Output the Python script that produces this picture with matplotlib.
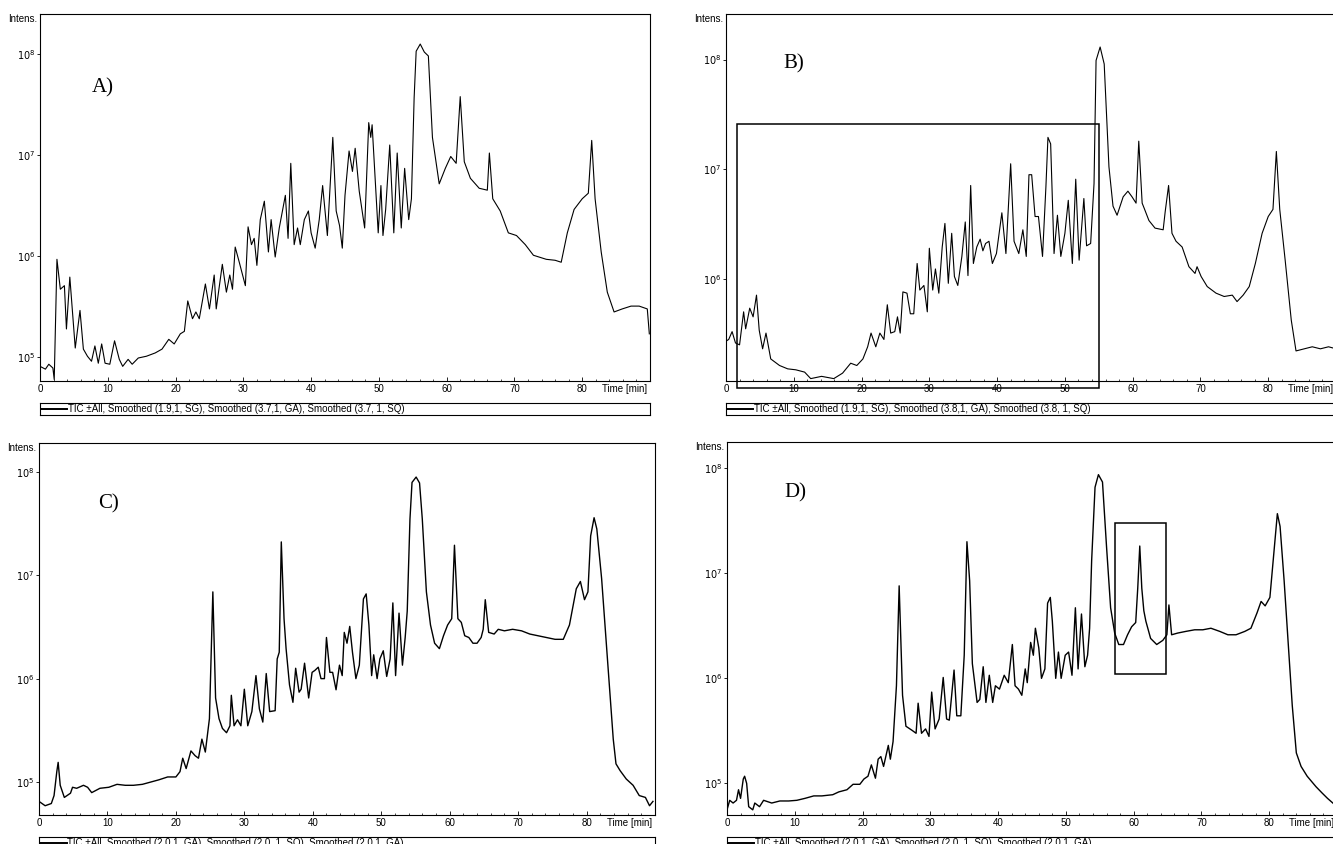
import matplotlib
matplotlib.use("Agg")
import matplotlib.pyplot as plt
from matplotlib.patches import Rectangle
from matplotlib.ticker import FixedLocator, MultipleLocator, NullFormatter

# ---- data (time in min, intensity) ----
a_time = [0.0, 0.8, 1.3, 1.9, 2.1, 2.5, 3.0, 3.6, 3.9, 4.4, 5.2, 5.9, 6.4, 7.0, 7.6, 8.1, 8.6, 9.1, 9.6,
          10.3, 11.0, 11.7, 12.2, 13.0, 13.6, 14.5, 15.7, 17.0, 18.0, 19.0, 19.8, 20.7, 21.3, 21.8, 22.5,
          23.0, 23.5, 24.4, 25.0, 25.7, 26.0, 26.9, 27.5, 28.0, 28.4, 28.8, 29.4, 30.3, 30.7, 31.2, 31.6,
          32.0, 32.5, 33.1, 33.7, 34.1, 34.7, 35.3, 36.2, 36.6, 37.0, 37.5, 38.0, 38.4, 39.0, 39.6, 40.0,
          40.6, 41.2, 41.7, 42.4, 43.2, 43.7, 44.2, 44.6, 45.0, 45.6, 46.1, 46.5, 47.1, 47.9, 48.5, 48.8,
          49.0, 49.5, 49.9, 50.3, 50.6, 51.0, 51.6, 52.2, 52.7, 53.3, 53.8, 54.4, 54.8, 55.2, 55.5, 56.1,
          56.7, 57.3, 57.9, 58.9, 59.8, 60.6, 61.4, 62.0, 62.6, 63.5, 64.8, 66.0, 66.3, 66.8, 67.9, 69.1,
          70.3, 71.6, 72.8, 74.7, 76.0, 76.9, 77.8, 78.8, 80.0, 80.9, 81.4, 81.9, 82.8, 83.7, 84.7, 85.9,
          87.2, 88.4, 89.6, 89.9]
a_int = [8.1e4, 7.6e4, 8.5e4, 7.8e4, 6.0e4, 9.3e5, 4.7e5, 5.1e5, 1.9e5, 6.2e5, 1.23e5, 2.9e5, 1.2e5,
         1.02e5, 9.1e4, 1.29e5, 8.7e4, 1.35e5, 8.7e4, 8.5e4, 1.45e5, 9.5e4, 8.1e4, 9.5e4, 8.5e4, 9.8e4,
         1.02e5, 1.1e5, 1.2e5, 1.5e5, 1.35e5, 1.7e5, 1.8e5, 3.6e5, 2.4e5, 2.8e5, 2.4e5, 5.3e5, 3.0e5,
         6.5e5, 3.0e5, 8.3e5, 4.4e5, 6.5e5, 4.7e5, 1.23e6, 8.7e5, 5.1e5, 1.95e6, 1.3e6, 1.5e6, 8.1e5,
         2.3e6, 3.5e6, 1.1e6, 2.3e6, 9.8e5, 1.9e6, 4.0e6, 1.5e6, 8.3e6, 1.3e6, 1.9e6, 1.3e6, 2.3e6,
         2.8e6, 1.7e6, 1.2e6, 2.3e6, 5.0e6, 1.6e6, 1.5e7, 2.8e6, 2.0e6, 1.2e6, 4.0e6, 1.1e7, 6.9e6,
         1.17e7, 4.4e6, 1.9e6, 2.1e7, 1.5e7, 2.0e7, 5.0e6, 1.7e6, 5.0e6, 1.6e6, 2.9e6, 1.26e7, 1.7e6,
         1.05e7, 1.9e6, 7.4e6, 2.3e6, 3.7e6, 3.7e7, 1.07e8, 1.26e8, 1.05e8, 9.6e7, 1.5e7, 5.2e6, 7.4e6,
         9.7e6, 8.3e6, 3.8e7, 8.6e6, 5.9e6, 4.7e6, 4.5e6, 1.05e7, 3.7e6, 2.8e6, 1.7e6, 1.6e6, 1.3e6,
         1.02e6, 9.3e5, 9.1e5, 8.7e5, 1.7e6, 2.9e6, 3.7e6, 4.2e6, 1.4e7, 3.7e6, 1.1e6, 4.4e5, 2.8e5,
         3.0e5, 3.2e5, 3.2e5, 3.0e5, 1.7e5]

b_time = [0.0, 0.4, 0.9, 1.4, 2.0, 2.6, 2.9, 3.5, 4.0, 4.5, 4.9, 5.4, 5.9, 6.6, 7.9, 9.1, 10.3, 11.6,
          12.5, 14.1, 15.9, 17.2, 18.4, 19.3, 20.2, 20.9, 21.4, 22.1, 22.7, 23.3, 23.8, 24.3, 24.9, 25.3,
          25.7, 26.1, 26.7, 27.2, 27.7, 28.2, 28.6, 29.2, 29.7, 30.0, 30.5, 30.9, 31.4, 31.9, 32.3, 32.8,
          33.3, 33.7, 34.2, 34.8, 35.3, 35.7, 36.1, 36.5, 37.0, 37.5, 37.9, 38.3, 38.8, 39.3, 39.9, 40.7,
          41.3, 42.0, 42.5, 43.2, 43.8, 44.3, 44.7, 45.1, 45.6, 46.1, 46.7, 47.2, 47.5, 47.9, 48.4, 48.9,
          49.4, 50.0, 50.5, 51.1, 51.6, 52.1, 52.8, 53.2, 53.8, 54.3, 54.6, 55.2, 55.8, 56.5, 57.1, 57.7,
          58.6, 59.3, 59.9, 60.5, 60.9, 61.4, 61.7, 62.4, 63.3, 64.5, 64.8, 65.3, 65.8, 66.4, 67.3, 68.3,
          69.2, 69.5, 70.1, 71.0, 72.3, 73.5, 74.7, 75.4, 76.3, 77.2, 78.1, 79.1, 80.0, 80.7, 81.2, 81.7,
          82.5, 83.4, 84.1, 85.3, 86.5, 87.7, 88.9, 90.0]
b_int = [2.7e5, 2.8e5, 3.3e5, 2.6e5, 2.5e5, 5.0e5, 3.5e5, 5.4e5, 4.5e5, 7.1e5, 3.4e5, 2.3e5, 3.2e5,
         1.86e5, 1.62e5, 1.51e5, 1.48e5, 1.41e5, 1.23e5, 1.29e5, 1.23e5, 1.38e5, 1.7e5, 1.62e5, 1.86e5,
         2.4e5, 3.2e5, 2.4e5, 3.2e5, 2.8e5, 5.8e5, 3.2e5, 3.3e5, 4.5e5, 3.2e5, 7.6e5, 7.4e5, 4.8e5,
         4.8e5, 1.38e6, 7.9e5, 8.7e5, 5.0e5, 1.9e6, 7.9e5, 1.23e6, 7.4e5, 1.95e6, 3.2e6, 9.1e5, 2.6e6,
         1.05e6, 8.7e5, 1.6e6, 3.3e6, 1.07e6, 7.1e6, 1.38e6, 1.95e6, 2.3e6, 1.8e6, 2.1e6, 2.2e6, 1.38e6,
         1.7e6, 4.0e6, 1.7e6, 1.12e7, 2.2e6, 1.7e6, 2.8e6, 1.6e6, 8.9e6, 8.9e6, 3.7e6, 3.7e6, 1.6e6,
         6.9e6, 1.95e7, 1.7e7, 1.7e6, 3.8e6, 1.6e6, 2.6e6, 5.2e6, 1.38e6, 8.1e6, 1.48e6, 5.4e6, 2.0e6,
         2.1e6, 7.4e6, 9.8e7, 1.3e8, 9.1e7, 1.05e7, 4.6e6, 3.8e6, 5.6e6, 6.3e6, 5.6e6, 4.9e6, 1.8e7,
         4.9e6, 4.4e6, 3.4e6, 2.9e6, 2.8e6, 4.1e6, 7.1e6, 2.6e6, 2.2e6, 1.95e6, 1.29e6, 1.12e6, 1.29e6,
         1.05e6, 8.5e5, 7.4e5, 6.9e5, 7.1e5, 6.2e5, 7.1e5, 8.5e5, 1.38e6, 2.6e6, 3.7e6, 4.3e6, 1.45e7,
         4.3e6, 1.48e6, 4.2e5, 2.2e5, 2.3e5, 2.4e5, 2.3e5, 2.4e5, 2.3e5]

c_time = [0.0, 0.9, 1.8, 2.2, 2.6, 2.8, 3.1, 3.7, 4.6, 4.9, 5.5, 6.5, 7.1, 7.7, 8.9, 10.2, 11.4, 12.6,
          13.8, 15.1, 16.3, 17.5, 18.8, 20.0, 20.6, 21.0, 21.5, 22.2, 22.8, 23.3, 23.8, 24.3, 24.9, 25.4,
          25.8, 26.3, 26.8, 27.4, 27.9, 28.1, 28.5, 29.0, 29.5, 30.0, 30.5, 31.1, 31.7, 32.2, 32.7, 33.2,
          33.7, 34.5, 34.8, 35.1, 35.4, 35.8, 36.1, 36.6, 37.1, 37.5, 38.0, 38.3, 38.8, 39.4, 39.9, 40.3,
          40.8, 41.2, 41.7, 42.0, 42.5, 42.9, 43.4, 43.9, 44.3, 44.6, 45.0, 45.4, 45.8, 46.3, 46.8, 47.4,
          47.8, 48.2, 48.6, 48.9, 49.4, 49.8, 50.3, 50.8, 51.3, 51.7, 52.1, 52.6, 53.1, 53.5, 53.8, 54.2,
          54.5, 55.1, 55.6, 56.0, 56.6, 57.2, 57.8, 58.5, 59.1, 59.7, 60.3, 60.7, 61.2, 61.7, 62.2, 62.8,
          63.4, 64.0, 64.6, 64.9, 65.2, 65.7, 66.5, 67.1, 68.0, 69.2, 70.5, 71.7, 72.9, 74.2, 75.4, 76.6,
          77.5, 78.5, 79.1, 79.7, 80.2, 80.6, 81.1, 81.5, 82.2, 82.8, 83.4, 83.9, 84.3, 84.9, 85.8, 86.8,
          87.7, 88.6, 89.2, 89.7]
c_int = [6.5e4, 5.9e4, 6.2e4, 7.4e4, 1.26e5, 1.55e5, 9.3e4, 7.1e4, 7.8e4, 8.9e4, 8.7e4, 9.3e4, 8.9e4,
         7.9e4, 8.7e4, 8.9e4, 9.5e4, 9.3e4, 9.3e4, 9.5e4, 1.0e5, 1.05e5, 1.12e5, 1.12e5, 1.26e5, 1.7e5,
         1.35e5, 2.0e5, 1.8e5, 1.7e5, 2.6e5, 1.95e5, 4.1e5, 6.9e6, 6.5e5, 4.1e5, 3.3e5, 3.0e5, 3.5e5,
         6.9e5, 3.5e5, 4.0e5, 3.5e5, 7.9e5, 3.5e5, 4.8e5, 1.07e6, 5.1e5, 3.8e5, 1.12e6, 4.8e5, 4.9e5,
         1.55e6, 1.8e6, 2.1e7, 3.8e6, 1.95e6, 8.7e5, 5.9e5, 1.26e6, 7.4e5, 7.9e5, 1.41e6, 6.5e5, 1.15e6,
         1.2e6, 1.29e6, 1.0e6, 1.0e6, 2.5e6, 1.15e6, 1.15e6, 7.8e5, 1.35e6, 1.07e6, 2.8e6, 2.2e6, 3.2e6,
         1.8e6, 1.0e6, 1.35e6, 5.9e6, 6.6e6, 3.3e6, 1.07e6, 1.7e6, 1.0e6, 1.55e6, 1.86e6, 1.05e6, 1.55e6,
         5.4e6, 1.07e6, 4.3e6, 1.35e6, 2.5e6, 4.5e6, 3.5e7, 7.9e7, 8.9e7, 7.8e7, 3.5e7, 6.9e6, 3.3e6,
         2.2e6, 1.95e6, 2.6e6, 3.3e6, 3.8e6, 1.95e7, 3.8e6, 3.5e6, 2.6e6, 2.5e6, 2.2e6, 2.2e6, 2.5e6,
         3.0e6, 5.8e6, 2.8e6, 2.7e6, 3.0e6, 2.9e6, 3.0e6, 2.9e6, 2.7e6, 2.6e6, 2.5e6, 2.4e6, 2.4e6,
         3.3e6, 7.4e6, 8.7e6, 5.8e6, 6.9e6, 2.4e7, 3.6e7, 2.8e7, 9.3e6, 2.6e6, 7.4e5, 2.6e5, 1.5e5,
         1.29e5, 1.07e5, 9.3e4, 7.4e4, 7.1e4, 5.9e4, 6.5e4]

d_time = [0.0, 0.4, 0.9, 1.4, 1.7, 2.0, 2.4, 2.6, 2.9, 3.2, 3.8, 4.1, 4.8, 5.4, 6.6, 7.8, 9.1, 10.3,
          11.5, 12.8, 14.0, 15.6, 16.5, 17.7, 18.6, 19.6, 20.2, 20.8, 21.3, 21.9, 22.3, 22.7, 23.1, 23.8,
          24.1, 24.5, 25.0, 25.4, 25.9, 26.4, 27.3, 27.9, 28.2, 28.7, 29.3, 29.8, 30.2, 30.7, 31.3, 31.9,
          32.4, 32.8, 33.5, 33.9, 34.5, 35.0, 35.4, 35.8, 36.2, 36.9, 37.3, 37.8, 38.2, 38.7, 39.2, 39.6,
          40.2, 40.9, 41.5, 42.1, 42.5, 43.0, 43.5, 44.0, 44.3, 44.8, 45.2, 45.5, 46.0, 46.4, 46.9, 47.3,
          47.7, 48.0, 48.5, 48.9, 49.3, 49.9, 50.4, 50.9, 51.4, 51.8, 52.3, 52.8, 53.2, 53.5, 53.8, 54.3,
          54.8, 55.4, 56.0, 56.6, 57.2, 57.8, 58.5, 59.1, 59.7, 60.3, 60.6, 60.9, 61.2, 61.5, 61.8, 62.5,
          63.4, 64.3, 64.9, 65.2, 65.6, 66.5, 67.7, 69.0, 70.2, 71.4, 72.7, 73.9, 75.1, 76.4, 77.3, 78.2,
          78.8, 79.4, 80.1, 80.7, 81.2, 81.6, 82.2, 82.8, 83.4, 84.0, 84.7, 85.6, 86.9, 87.8, 88.6, 90.0]
d_int = [5.6e4, 6.9e4, 6.5e4, 6.9e4, 8.7e4, 7.2e4, 1.1e5, 1.17e5, 1.0e5, 6.0e4, 5.6e4, 6.5e4, 6.0e4,
         6.9e4, 6.5e4, 6.8e4, 6.8e4, 6.9e4, 7.2e4, 7.6e4, 7.6e4, 7.8e4, 8.3e4, 8.7e4, 9.8e4, 9.8e4,
         1.1e5, 1.17e5, 1.5e5, 1.12e5, 1.7e5, 1.8e5, 1.45e5, 2.3e5, 1.7e5, 2.5e5, 8.5e5, 7.6e6, 6.9e5,
         3.5e5, 3.2e5, 3.0e5, 5.8e5, 3.0e5, 3.3e5, 2.8e5, 7.4e5, 3.3e5, 4.1e5, 1.02e6, 4.1e5, 4.0e5,
         1.2e6, 4.4e5, 4.4e5, 1.66e6, 2.0e7, 8.5e6, 1.38e6, 5.9e5, 6.3e5, 1.29e6, 5.9e5, 1.07e6, 5.9e5,
         8.5e5, 7.9e5, 1.07e6, 9.1e5, 2.1e6, 8.5e5, 7.9e5, 6.9e5, 1.23e6, 9.1e5, 2.2e6, 1.66e6, 3.0e6,
         1.95e6, 1.0e6, 1.23e6, 5.2e6, 5.9e6, 3.5e6, 1.0e6, 1.78e6, 1.0e6, 1.66e6, 1.78e6, 1.07e6,
         4.7e6, 1.23e6, 4.1e6, 1.29e6, 1.66e6, 3.0e6, 1.32e7, 6.6e7, 8.7e7, 7.4e7, 1.78e7, 4.7e6, 2.7e6,
         2.1e6, 2.1e6, 2.6e6, 3.1e6, 3.4e6, 7.2e6, 1.82e7, 7.2e6, 4.4e6, 3.5e6, 2.4e6, 2.1e6, 2.3e6,
         2.6e6, 5.0e6, 2.6e6, 2.7e6, 2.8e6, 2.9e6, 2.9e6, 3.0e6, 2.8e6, 2.6e6, 2.6e6, 2.8e6, 3.0e6,
         4.2e6, 5.4e6, 4.9e6, 5.9e6, 1.62e7, 3.7e7, 2.8e7, 8.5e6, 2.2e6, 5.5e5, 1.95e5, 1.45e5, 1.17e5,
         9.3e4, 8.1e4, 7.2e4, 6.0e4]

panel_names = ['A)', 'B)', 'C)', 'D)']
legend_texts = [
    'TIC \u00b1All, Smoothed (1.9,1, SG), Smoothed (3.7,1, GA), Smoothed (3.7, 1, SQ)',
    'TIC \u00b1All, Smoothed (1.9,1, SG), Smoothed (3.8,1, GA), Smoothed (3.8, 1, SQ)',
    'TIC \u00b1All, Smoothed (2.0,1, GA), Smoothed (2.0, 1, SQ), Smoothed (2.0,1, GA)',
    'TIC \u00b1All, Smoothed (2.0,1, GA), Smoothed (2.0, 1, SQ), Smoothed (2.0,1, GA)',
]
y_limits = [(5.8e4, 2.5e8), (1.17e5, 2.6e8), (4.8e4, 1.9e8), (5.0e4, 1.78e8)]
x_ticks = [0, 10, 20, 30, 40, 50, 60, 70, 80]
y_ticks = [1e5, 1e6, 1e7, 1e8]
# highlighted regions: (t0, t1, low, high); the B box runs a little below the axis line
box_b = (1.6, 55.0, 1.0e5, 2.6e7)
box_d = (57.3, 64.7, 1.1e6, 3.0e7)

W, H = 1333, 844
fig = plt.figure(figsize=(W / 100, H / 100), dpi=100)
plt.rcParams['font.family'] = ['Liberation Sans', 'DejaVu Sans']


def px_axes(left, top, right, bottom):
    return fig.add_axes([left / W, 1 - bottom / H, (right - left) / W, (bottom - top) / H])


def draw_panel(rect, leg_rect, t, inten, name, leg_text, ylim, name_pos, box=None, lw=0.8):
    ax = px_axes(*rect)
    ax.plot(t, inten, color='black', lw=lw)
    ax.set_yscale('log')
    ax.set_xlim(0, 90)
    ax.set_ylim(*ylim)
    ax.xaxis.set_major_locator(FixedLocator(x_ticks))
    ax.xaxis.set_minor_locator(MultipleLocator(2))
    ax.yaxis.set_major_locator(FixedLocator(y_ticks))
    ax.yaxis.set_minor_formatter(NullFormatter())
    ax.yaxis.set_minor_locator(FixedLocator([]))
    ax.set_yticklabels([r'$10^{%d}$' % e for e in (5, 6, 7, 8)])
    ax.tick_params(axis='x', which='major', direction='in', length=3, width=0.6, labelsize=7, pad=2)
    ax.tick_params(axis='x', which='minor', direction='in', length=1.5, width=0.5)
    ax.tick_params(axis='y', direction='out', length=2.5, width=0.6, labelsize=7, pad=1)
    for s in ax.spines.values():
        s.set_linewidth(0.8)
    ax.text(0.995, -0.008, 'Time [min]', transform=ax.transAxes, ha='right', va='top', fontsize=7)
    ax.text(-0.005, 0.986, 'Intens.', transform=ax.transAxes, ha='right', va='center', fontsize=7)
    ax.text(name_pos[0], name_pos[1], name, transform=ax.transAxes, fontsize=15,
            family=['Liberation Serif', 'DejaVu Serif'], va='center')
    if box is not None:
        ax.add_patch(Rectangle((box[0], box[2]), box[1] - box[0], box[3] - box[2],
                               fill=False, ec='black', lw=1.1, clip_on=False))

    lg = px_axes(*leg_rect)
    lg.set_xlim(0, 1)
    lg.set_ylim(0, 1)
    lg.set_xticks([])
    lg.set_yticks([])
    for s in lg.spines.values():
        s.set_linewidth(0.8)
    lg.plot([0.0, 0.045], [0.5, 0.5], color='black', lw=1.4)
    lg.text(0.046, 0.5, leg_text, fontsize=7, va='center', ha='left')
    return ax


draw_panel((40, 14, 650, 381), (40, 403, 650, 415), a_time, a_int, panel_names[0],
           legend_texts[0], y_limits[0], (0.085, 0.80))
draw_panel((726, 14, 1336, 381), (726, 403, 1336, 415), b_time, b_int, panel_names[1],
           legend_texts[1], y_limits[1], (0.094, 0.864), box_b)
draw_panel((39, 443, 655, 815), (39, 837, 655, 849), c_time, c_int, panel_names[2],
           legend_texts[2], y_limits[2], (0.096, 0.836), lw=1.0)
draw_panel((727, 442, 1337, 815), (727, 837, 1337, 849), d_time, d_int, panel_names[3],
           legend_texts[3], y_limits[3], (0.094, 0.863), box_d, lw=1.0)

fig.savefig('out.png', dpi=100)
